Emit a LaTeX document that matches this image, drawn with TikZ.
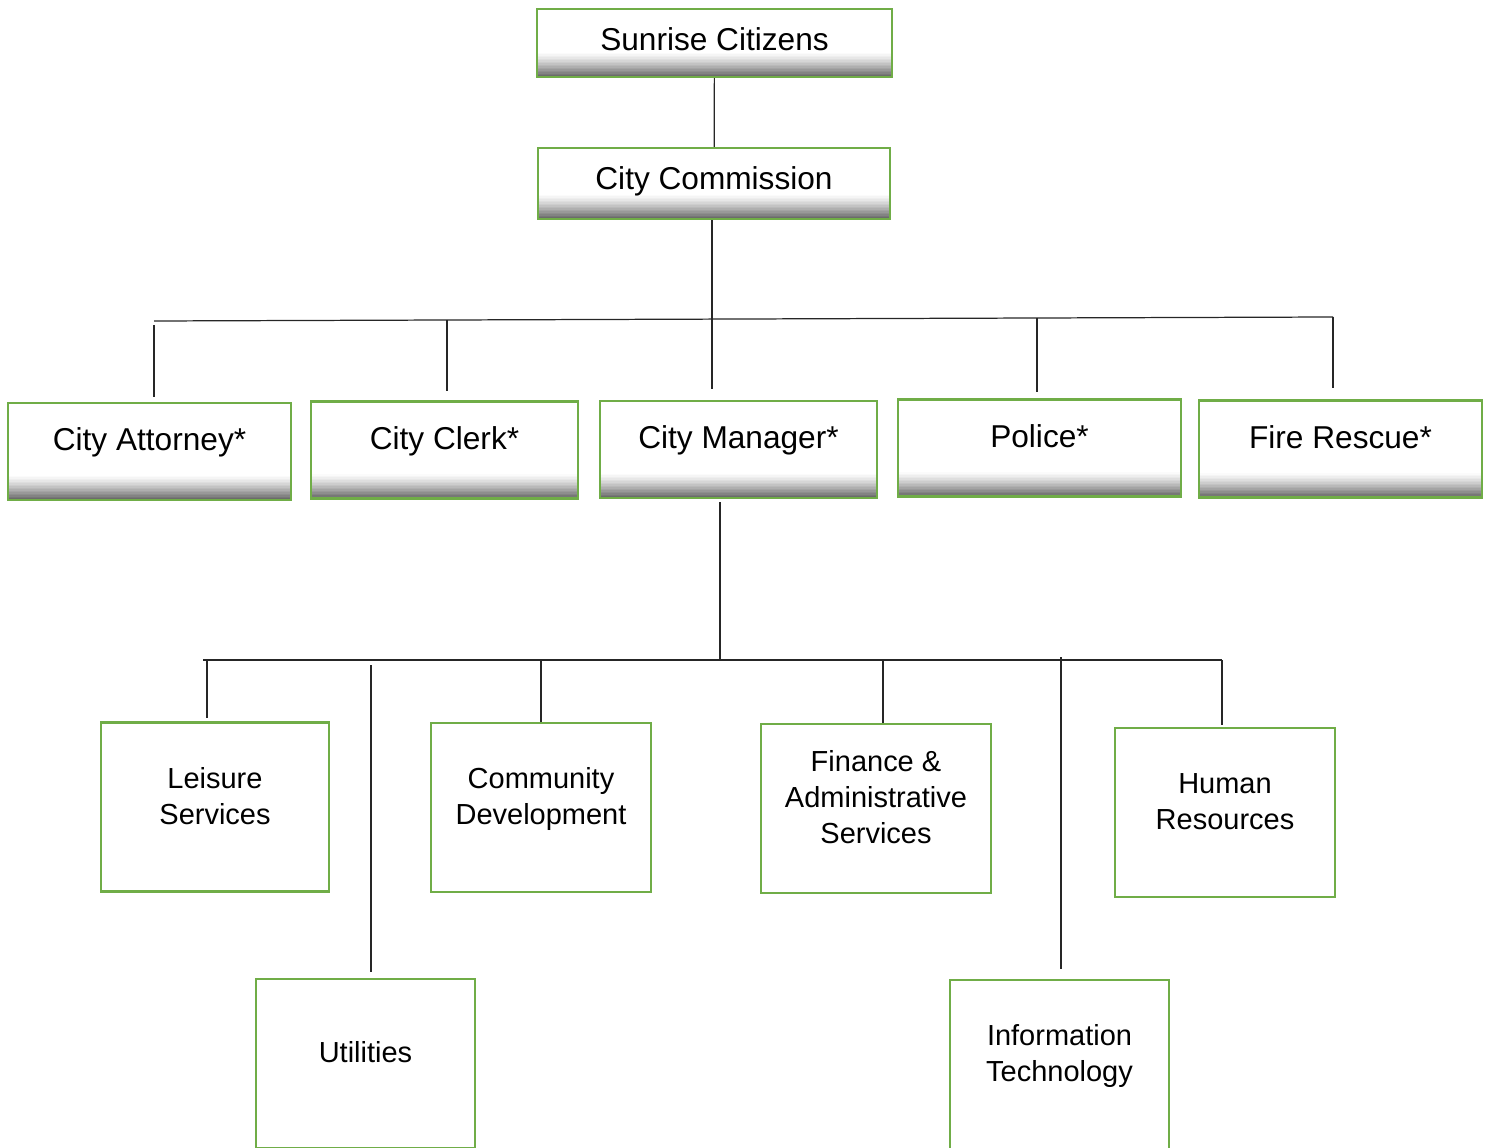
\documentclass[tikz,border=0pt]{standalone}
\usepackage{fontspec}
\setmainfont{Liberation Sans}
\usetikzlibrary{calc}
\definecolor{boxgreen}{HTML}{70AD47}

\begin{document}
\begin{tikzpicture}[x=0.02cm,y=-0.02cm,
	topbox/.style={draw=boxgreen, line width=1.4pt, fill=white, inner sep=0pt,
		font=\fontsize{18}{21}\selectfont,
		path picture={\foreach \i [evaluate=\i as \c using {58*(1-\i/16)^1.3}] in {0,...,15}
			\fill[black!\c] ($(path picture bounding box.south west)+(0,\i*0.03cm)$) rectangle
			($(path picture bounding box.south east)+(0,\i*0.03cm+0.031cm)$);}},
	midbox/.style={topbox, text height=0.96cm, text depth=0.98cm},
	lowbox/.style={draw=boxgreen, line width=1.5pt, minimum height=3.38cm, inner sep=0pt},
	boxtext/.style={align=center, yshift=0.22cm, font=\fontsize{16.5}{20.5}\selectfont},
	conn/.style={line width=0.7pt, black!85}]
			\useasboundingbox (0,0) rectangle (1491,1148);
			
			\node[topbox, minimum width=7.1cm, text height=0.84cm, text depth=0.52cm] (sun) at (714.5,43) {Sunrise Citizens};
			\node[topbox, minimum width=7.04cm, text height=0.84cm, text depth=0.58cm] (com) at (714,183.5) {City Commission};
			
			\node[midbox, minimum width=5.66cm] (att) at (149.5,451.5) {City Attorney*};
			\node[midbox, minimum width=5.34cm] (clk) at (444.5,450) {City Clerk*};
			\node[midbox, minimum width=5.54cm] (mgr) at (738.5,449.5) {City Manager*};
			\node[midbox, minimum width=5.66cm] (pol) at (1039.5,448) {Police*};
			\node[midbox, minimum width=5.66cm] (fire) at (1340.5,449) {Fire Rescue*};
			
			\node[lowbox, minimum width=4.56cm, label={[boxtext]center:Leisure\\Services}] (lei) at (215,807) {};
			\node[lowbox, minimum width=4.4cm, label={[boxtext,yshift=-0.05cm]center:Community\\Development}] (cdev) at (541,807.5) {};
			\node[lowbox, minimum width=4.6cm, label={[boxtext]center:Finance \&\\Administrative\\Services}] (fin) at (876,808.5) {};
			\node[lowbox, minimum width=4.4cm, label={[boxtext]center:Human\\Resources}] (hr) at (1225,812.5) {};
			\node[lowbox, minimum width=4.38cm, label={[boxtext]center:Utilities}] (util) at (365.5,1063.5) {};
			\node[lowbox, minimum width=4.38cm, label={[boxtext,yshift=-0.05cm]center:Information\\Technology}] (it) at (1059.5,1064.5) {};
			
			\coordinate (c1) at (154,321);
			\coordinate (c2) at (447,320);
			\coordinate (c3) at (712,319);
			\coordinate (c4) at (1037,318);
			\coordinate (c5) at (1333,317);
			
			\coordinate (m0) at (720,660);
			\coordinate (m1) at (203,660);
			\coordinate (m2) at (1222,660);
			
			\draw [conn] (sun) -- (com);
			\draw [conn,shorten >=0.22cm] (com.south -| c3) -- (c3 |- mgr.north);
			\draw [conn] (c1) -- (c5);
			\draw [conn,shorten <=0.08cm,shorten >=0.1cm] (c1) -- (c1 |- att.north);
			\draw [conn,shorten >=0.18cm] (c2) -- (c2 |- clk.north);
			\draw [conn,shorten >=0.12cm] (c4) -- (c4 |- pol.north);
			\draw [conn,shorten >=0.22cm] (c5) -- (c5 |- fire.north);
			
			\draw [conn,shorten <=0.06cm] (mgr.south -| m0) -- (m0);
			\draw [conn] (m1) -- (m2);
			\draw [conn,shorten >=0.06cm] (m1 -| 207,0) -- (lei.north -| 207,0);
			\draw [conn,shorten <=0.1cm,shorten >=0.12cm] (m1 -| 371,0) -- (util.north -| 371,0);
			\draw [conn] (m1 -| cdev.north) -- (cdev.north);
			\draw [conn] (m1 -| 883,0) -- (fin.north -| 883,0);
			\draw [conn,shorten <=-0.06cm,shorten >=0.2cm] (m1 -| 1061,0) -- (it.north -| 1061,0);
			\draw [conn,shorten >=0.04cm] (m2) -- (m2 |- hr.north);
\end{tikzpicture}
\end{document}
